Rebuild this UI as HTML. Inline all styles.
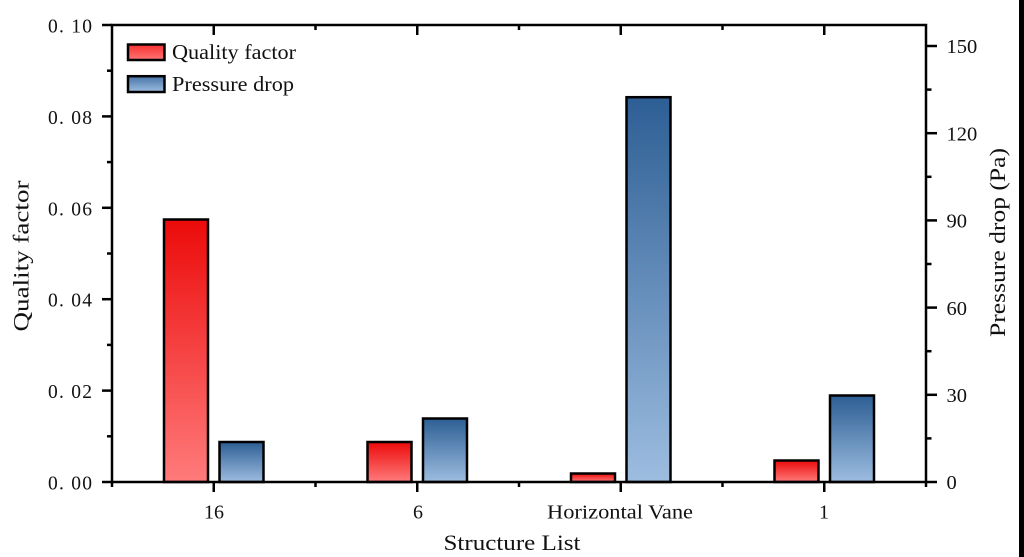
<!DOCTYPE html>
<html>
<head>
<meta charset="utf-8">
<style>
html,body{margin:0;padding:0;background:#fff;}
svg{display:block;}
text{font-family:"Liberation Serif","Times New Roman",serif;fill:#111;}
</style>
</head>
<body>
<svg width="1024" height="557" viewBox="0 0 1024 557" xmlns="http://www.w3.org/2000/svg">
<defs>
<linearGradient id="gr" x1="0" y1="0" x2="0" y2="1">
<stop offset="0" stop-color="#ec0a0a"/>
<stop offset="1" stop-color="#ff7b7b"/>
</linearGradient>
<linearGradient id="gb" x1="0" y1="0" x2="0" y2="1">
<stop offset="0" stop-color="#2d5e94"/>
<stop offset="1" stop-color="#9dbde0"/>
</linearGradient>
<linearGradient id="grl" x1="0" y1="0" x2="0" y2="1">
<stop offset="0" stop-color="#f53030"/>
<stop offset="1" stop-color="#ff7575"/>
</linearGradient>
<linearGradient id="gbl" x1="0" y1="0" x2="0" y2="1">
<stop offset="0" stop-color="#4673a8"/>
<stop offset="1" stop-color="#9dbde0"/>
</linearGradient>
</defs>
<rect x="0" y="0" width="1024" height="557" fill="#fff"/>
<rect x="1019" y="0" width="5" height="557" fill="#000"/>

<!-- bars -->
<g stroke="#000" stroke-width="2.5">
<rect x="164" y="219.5" width="44" height="262.5" fill="url(#gr)"/>
<rect x="219.5" y="442" width="44" height="40" fill="url(#gb)"/>
<rect x="367.5" y="442" width="44" height="40" fill="url(#gr)"/>
<rect x="423" y="418.5" width="44" height="63.5" fill="url(#gb)"/>
<rect x="571" y="473.5" width="44" height="8.5" fill="url(#gr)"/>
<rect x="626.5" y="97.2" width="44" height="384.8" fill="url(#gb)"/>
<rect x="774.5" y="460.5" width="44" height="21.5" fill="url(#gr)"/>
<rect x="830" y="395.5" width="44" height="86.5" fill="url(#gb)"/>
</g>

<!-- frame -->
<rect x="112" y="25" width="814" height="457" fill="none" stroke="#000" stroke-width="2.5"/>

<g stroke="#000" stroke-width="2.5">
<!-- left ticks major -->
<line x1="102" y1="25" x2="112" y2="25"/>
<line x1="102" y1="116.4" x2="112" y2="116.4"/>
<line x1="102" y1="207.8" x2="112" y2="207.8"/>
<line x1="102" y1="299.2" x2="112" y2="299.2"/>
<line x1="102" y1="390.6" x2="112" y2="390.6"/>
<line x1="102" y1="482" x2="112" y2="482"/>
<!-- left minor -->
<line x1="107" y1="70.7" x2="112" y2="70.7"/>
<line x1="107" y1="162.1" x2="112" y2="162.1"/>
<line x1="107" y1="253.5" x2="112" y2="253.5"/>
<line x1="107" y1="344.9" x2="112" y2="344.9"/>
<line x1="107" y1="436.3" x2="112" y2="436.3"/>
<!-- right ticks major -->
<line x1="926" y1="482" x2="937" y2="482"/>
<line x1="926" y1="394.8" x2="937" y2="394.8"/>
<line x1="926" y1="307.6" x2="937" y2="307.6"/>
<line x1="926" y1="220.4" x2="937" y2="220.4"/>
<line x1="926" y1="133.2" x2="937" y2="133.2"/>
<line x1="926" y1="46" x2="937" y2="46"/>
<!-- right minor -->
<line x1="926" y1="438.4" x2="931.5" y2="438.4"/>
<line x1="926" y1="351.2" x2="931.5" y2="351.2"/>
<line x1="926" y1="264" x2="931.5" y2="264"/>
<line x1="926" y1="176.8" x2="931.5" y2="176.8"/>
<line x1="926" y1="89.6" x2="931.5" y2="89.6"/>
<!-- bottom major -->
<line x1="213.75" y1="482" x2="213.75" y2="492"/>
<line x1="417.25" y1="482" x2="417.25" y2="492"/>
<line x1="620.75" y1="482" x2="620.75" y2="492"/>
<line x1="824.25" y1="482" x2="824.25" y2="492"/>
<!-- bottom minor -->
<line x1="112" y1="482" x2="112" y2="487"/>
<line x1="315.5" y1="482" x2="315.5" y2="487"/>
<line x1="519" y1="482" x2="519" y2="487"/>
<line x1="722.5" y1="482" x2="722.5" y2="487"/>
<line x1="926" y1="482" x2="926" y2="487"/>
<!-- top major (inward) -->
<line x1="213.75" y1="25" x2="213.75" y2="35"/>
<line x1="417.25" y1="25" x2="417.25" y2="35"/>
<line x1="620.75" y1="25" x2="620.75" y2="35"/>
<line x1="824.25" y1="25" x2="824.25" y2="35"/>
<!-- top minor -->
<line x1="315.5" y1="25" x2="315.5" y2="30"/>
<line x1="519" y1="25" x2="519" y2="30"/>
<line x1="722.5" y1="25" x2="722.5" y2="30"/>
</g>

<!-- left tick labels -->
<g font-size="19.5" text-anchor="end">
<text x="92" y="32.5" textLength="44" lengthAdjust="spacing">0. 10</text>
<text x="92" y="123.9" textLength="44" lengthAdjust="spacing">0. 08</text>
<text x="92" y="215.3" textLength="44" lengthAdjust="spacing">0. 06</text>
<text x="92" y="306.7" textLength="44" lengthAdjust="spacing">0. 04</text>
<text x="92" y="398.1" textLength="44" lengthAdjust="spacing">0. 02</text>
<text x="92" y="489.5" textLength="44" lengthAdjust="spacing">0. 00</text>
</g>

<!-- right tick labels -->
<g font-size="20.5">
<text x="946.5" y="489.2">0</text>
<text x="946.5" y="402">30</text>
<text x="946.5" y="314.8">60</text>
<text x="946.5" y="227.6">90</text>
<text x="946.5" y="140.4">120</text>
<text x="946.5" y="53.2">150</text>
</g>

<!-- category labels -->
<g font-size="20" text-anchor="middle">
<text x="214" y="518.3">16</text>
<text x="418" y="518.3">6</text>
<text x="620" y="518.3" textLength="146" lengthAdjust="spacingAndGlyphs">Horizontal Vane</text>
<text x="824" y="518.3">1</text>
</g>

<!-- axis titles -->
<text x="512" y="550" font-size="22" text-anchor="middle" textLength="137" lengthAdjust="spacingAndGlyphs">Structure List</text>
<text transform="translate(28.5,256) rotate(-90)" font-size="22" text-anchor="middle" textLength="151" lengthAdjust="spacingAndGlyphs">Quality factor</text>
<text transform="translate(1005,242.5) rotate(-90)" font-size="22" text-anchor="middle" textLength="189" lengthAdjust="spacingAndGlyphs">Pressure drop (Pa)</text>

<!-- legend -->
<rect x="128" y="44.5" width="36.5" height="15.5" fill="url(#grl)" stroke="#000" stroke-width="2.5"/>
<rect x="128" y="76.2" width="36.5" height="15.8" fill="url(#gbl)" stroke="#000" stroke-width="2.5"/>
<text x="172" y="59" font-size="21" textLength="124" lengthAdjust="spacingAndGlyphs">Quality factor</text>
<text x="172" y="91" font-size="21" textLength="122" lengthAdjust="spacingAndGlyphs">Pressure drop</text>
</svg>
</body>
</html>
